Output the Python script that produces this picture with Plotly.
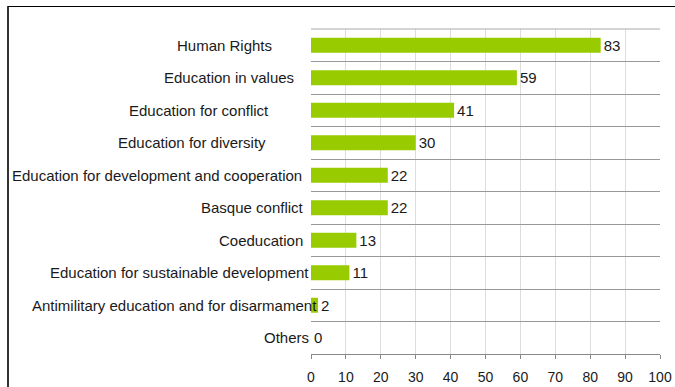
import plotly.graph_objects as go

categories = [
    "Human Rights",
    "Education in values",
    "Education for conflict",
    "Education for diversity",
    "Education for development and cooperation",
    "Basque conflict",
    "Coeducation",
    "Education for sustainable development",
    "Antimilitary education and for disarmament",
    "Others",
]
counts = [83, 59, 41, 30, 22, 22, 13, 11, 2, 0]
x_ticks = list(range(0, 101, 10))

# horizontal offset (px) of the right end of each category label from the value axis
label_shift = [-37, -15, -40, -43, -7, -5, -6, 0, 8, 0]

W, H = 675, 387
M_L, M_R, M_T, M_B = 311, 15, 29, 33
FONT = "Liberation Sans, Arial, sans-serif"
INK = "#1a1a1a"

fig = go.Figure(
    go.Bar(
        y=categories,
        x=counts,
        orientation="h",
        width=0.46,
        marker=dict(color="#99CC00", line=dict(width=0)),
        text=[str(v) for v in counts],
        textposition="outside",
        constraintext="none",
        textfont=dict(family=FONT, size=15, color=INK),
        cliponaxis=False,
        hoverinfo="x+y",
    )
)

# category labels
for cat, dx in zip(categories, label_shift):
    fig.add_annotation(
        x=0, y=cat, xref="x", yref="y",
        text=cat, showarrow=False,
        xanchor="right", yanchor="middle",
        xshift=dx,
        font=dict(family=FONT, size=15, color=INK),
    )

# outer frame: a box whose right and bottom edges fall outside the page
pw = W - M_L - M_R
ph = H - M_T - M_B


def px_x(p):
    return (p - M_L) / pw


def px_y(p):
    return (H - M_B - p) / ph


fig.add_shape(type="rect", xref="paper", yref="paper",
              x0=px_x(7.5), x1=px_x(W + 40), y0=px_y(6.5), y1=px_y(H + 40),
              line=dict(color="#000000", width=1), fillcolor="rgba(0,0,0,0)",
              layer="above")
fig.add_shape(type="line", xref="paper", yref="paper",
              x0=px_x(8), x1=px_x(8), y0=px_y(7), y1=px_y(H + 40),
              line=dict(color="#333333", width=2))
# top edge of the plotting area
fig.add_shape(type="line", xref="paper", yref="paper",
              x0=0, x1=1, y0=1, y1=1,
              line=dict(color="#aaaaaa", width=1))

fig.update_layout(
    width=W,
    height=H,
    margin=dict(l=M_L, r=M_R, t=M_T, b=M_B, autoexpand=False),
    paper_bgcolor="white",
    plot_bgcolor="white",
    showlegend=False,
    font=dict(family=FONT, size=14, color=INK),
    xaxis=dict(
        range=[0, 100],
        tickvals=x_ticks,
        ticktext=[str(t) for t in x_ticks],
        showgrid=True,
        gridcolor="#dddddd",
        gridwidth=1,
        zeroline=False,
        showline=True,
        linecolor="#888888",
        linewidth=1,
        ticks="outside",
        ticklen=4,
        tickcolor="#888888",
        ticklabelstandoff=6,
        tickfont=dict(family=FONT, size=14, color=INK),
        automargin=False,
        fixedrange=True,
    ),
    yaxis=dict(
        categoryorder="array",
        categoryarray=categories,
        autorange="reversed",
        tickson="boundaries",
        showgrid=True,
        gridcolor="#999999",
        gridwidth=1,
        ticks="",
        showticklabels=False,
        showline=False,
        automargin=False,
        fixedrange=True,
    ),
)

fig.write_html("out.html", config={"displayModeBar": False, "staticPlot": True})
